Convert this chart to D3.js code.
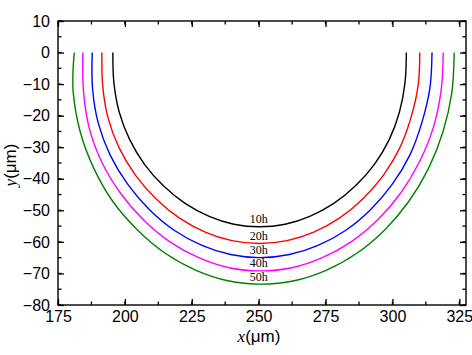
<!DOCTYPE html>
<html>
<head>
<meta charset="utf-8">
<script src="https://cdn.jsdelivr.net/npm/d3@7"></script>
<style>
  html, body { margin: 0; padding: 0; background: #fff; }
  svg { display: block; }
</style>
</head>
<body>
<svg id="chart" width="472" height="355"></svg>
<script>
// ---- data ----
const seriesNames = ["10h", "20h", "30h", "40h", "50h"];
const seriesColors = ["#000000", "#ff0000", "#0000ff", "#ff00ff", "#008000"];

const curve10h = [[195.5,0],[195.9,-9.6],[197.9,-18.9],[201.8,-27.6],[207.4,-35.5],[214.5,-42.3],[222.5,-47.8],[231.5,-51.9],[240.7,-54.4],[250.3,-55.2],
                  [259.9,-54.4],[269.1,-51.9],[278.1,-47.8],[286.1,-42.3],[293.2,-35.5],[298.8,-27.6],[302.6,-18.9],[304.7,-9.6],[305.2,0]];
const curve20h = [[191.4,0],[191.7,-10.5],[193.7,-20.7],[197.9,-30.3],[204.0,-38.9],[211.6,-46.3],[220.3,-52.4],[230.0,-56.9],[240.0,-59.6],[250.3,-60.5],
                  [260.6,-59.6],[270.6,-56.9],[280.3,-52.4],[289.0,-46.3],[296.6,-38.9],[302.7,-30.3],[306.9,-20.7],[309.6,-10.5],[310.2,0]];
const curve30h = [[187.8,0],[187.9,-11.3],[190.0,-22.2],[194.5,-32.5],[201.1,-41.8],[209.2,-49.8],[218.4,-56.3],[228.8,-61.1],[239.5,-64.0],[250.5,-65.0],
                  [261.5,-64.0],[272.2,-61.1],[282.6,-56.3],[291.8,-49.8],[299.9,-41.8],[306.5,-32.5],[311.0,-22.2],[314.0,-11.3],[314.8,0]];
const curve40h = [[184.3,0],[184.5,-12.0],[186.6,-23.7],[191.3,-34.6],[198.3,-44.5],[206.9,-53.0],[216.7,-59.9],[227.6,-65.0],[239.0,-68.2],[250.7,-69.2],
                  [262.4,-68.2],[273.8,-65.0],[284.7,-59.9],[294.5,-53.0],[303.1,-44.5],[310.1,-34.6],[315.3,-23.7],[318.2,-12.0],[319.0,0]];
const curve50h = [[181.1,0],[180.6,-6],[180.7,-12.7],[183.3,-25.1],[188.4,-36.7],[195.5,-47.2],[204.7,-56.2],[215.1,-63.6],[226.6,-69.0],[238.5,-72.3],[250.9,-73.4],
                  [263.3,-72.3],[275.2,-69.0],[286.7,-63.6],[297.1,-56.2],[306.1,-47.2],[313.5,-36.7],[318.9,-25.1],[322.2,-12.7],[323.1,0]];
const curves = [curve10h, curve20h, curve30h, curve40h, curve50h];

const xTicks = [175, 200, 225, 250, 275, 300, 325];
const yTicks = [10, 0, -10, -20, -30, -40, -50, -60, -70, -80];
const xDomain = [175, 327.5];
const yDomain = [-80, 10];

// ---- layout ----
const svg = d3.select("#chart");
const L = 58, R = 466, T = 21, B = 305;
const x = d3.scaleLinear().domain(xDomain).range([L, R]);
const y = d3.scaleLinear().domain(yDomain).range([B, T]);

const majorLen = 6, minorLen = 3.5;
const xMinor = d3.range(xDomain[0], xDomain[1] + 0.01, 12.5);
const yMinor = d3.range(yDomain[0], yDomain[1] + 0.01, 5);

function styleAxis(g) {
  g.select(".domain").remove();
  g.selectAll(".tick line").attr("stroke", "#000").attr("stroke-width", 1.3);
}

// minor ticks (inside)
const minorG = svg.append("g").attr("stroke", "#000").attr("stroke-width", 1.3);
xMinor.forEach(v => {
  minorG.append("line").attr("x1", x(v)).attr("x2", x(v)).attr("y1", B).attr("y2", B - minorLen);
  minorG.append("line").attr("x1", x(v)).attr("x2", x(v)).attr("y1", T).attr("y2", T + minorLen);
});
yMinor.forEach(v => {
  minorG.append("line").attr("y1", y(v)).attr("y2", y(v)).attr("x1", L).attr("x2", L + minorLen);
  minorG.append("line").attr("y1", y(v)).attr("y2", y(v)).attr("x1", R).attr("x2", R - minorLen);
});

// bottom axis
const gx = svg.append("g").attr("transform", `translate(0,${B})`)
  .call(d3.axisBottom(x).tickValues(xTicks).tickFormat(d3.format("d")).tickSizeInner(-majorLen).tickSizeOuter(0).tickPadding(6));
styleAxis(gx);
gx.selectAll("text").attr("font-family", "Liberation Sans, Arial, sans-serif").attr("font-size", 16).attr("fill", "#000");

// top axis (ticks only)
const gxt = svg.append("g").attr("transform", `translate(0,${T})`)
  .call(d3.axisTop(x).tickValues(xTicks).tickFormat("").tickSizeInner(-majorLen).tickSizeOuter(0));
styleAxis(gxt);

// left axis
const gy = svg.append("g").attr("transform", `translate(${L},0)`)
  .call(d3.axisLeft(y).tickValues(yTicks).tickFormat(d3.format("d")).tickSizeInner(-majorLen).tickSizeOuter(0).tickPadding(8));
styleAxis(gy);
gy.selectAll("text").attr("font-family", "Liberation Sans, Arial, sans-serif").attr("font-size", 16).attr("fill", "#000");

// right axis (ticks only)
const gyr = svg.append("g").attr("transform", `translate(${R},0)`)
  .call(d3.axisRight(y).tickValues(yTicks).tickFormat("").tickSizeInner(-majorLen).tickSizeOuter(0));
styleAxis(gyr);

// frame
svg.append("rect").attr("x", L).attr("y", T).attr("width", R - L).attr("height", B - T)
  .attr("fill", "none").attr("stroke", "#000").attr("stroke-width", 1.4);

// curves
const line = d3.line().x(d => x(d[0])).y(d => y(d[1])).curve(d3.curveCatmullRom.alpha(0.5));
curves.forEach((c, i) => {
  svg.append("path").datum(c).attr("d", line)
    .attr("fill", "none").attr("stroke", seriesColors[i]).attr("stroke-width", 1.4);
});

// curve labels, just above the lowest point of each curve
curves.forEach((c, i) => {
  const low = c.reduce((a, b) => (b[1] < a[1] ? b : a));
  svg.append("text").attr("x", x(250)).attr("y", y(low[1]) - 3.5)
    .attr("text-anchor", "middle")
    .attr("font-family", "Liberation Serif, Times New Roman, serif").attr("font-size", 12)
    .attr("fill", "#000").text(seriesNames[i]);
});

// axis titles
const xt = svg.append("text").attr("x", 259).attr("y", 342).attr("text-anchor", "middle")
  .attr("font-size", 17).attr("fill", "#000");
xt.append("tspan").attr("font-family", "Liberation Serif, Times New Roman, serif").attr("font-style", "italic").text("x");
xt.append("tspan").attr("font-family", "Liberation Sans, Arial, sans-serif").text("(μm)");

const yt = svg.append("text").attr("transform", "translate(16,165) rotate(-90)").attr("text-anchor", "middle")
  .attr("font-size", 17).attr("fill", "#000");
yt.append("tspan").attr("font-family", "Liberation Serif, Times New Roman, serif").attr("font-style", "italic").text("y");
yt.append("tspan").attr("font-family", "Liberation Sans, Arial, sans-serif").text("(μm)");
</script>
</body>
</html>
